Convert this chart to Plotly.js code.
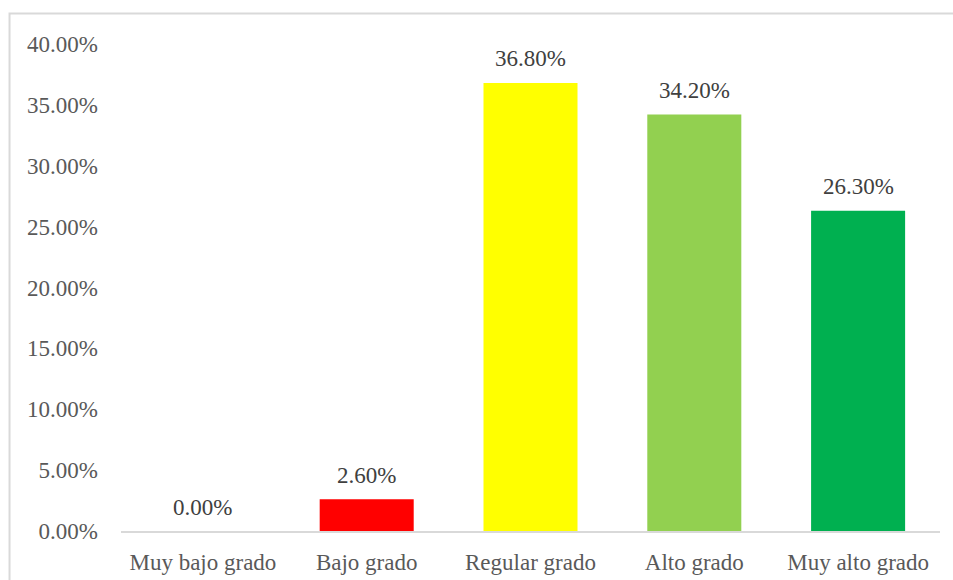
<!DOCTYPE html>
<html>
<head>
<meta charset="utf-8">
<script src="https://cdn.plot.ly/plotly-3.0.1.min.js"></script>
<style>html,body{margin:0;padding:0;background:#fff;}#chart{width:953px;height:580px;}</style>
</head>
<body>
<div id="chart"></div>
<script>
const categories = ["Muy bajo grado", "Bajo grado", "Regular grado", "Alto grado", "Muy alto grado"];
const values = [0.0, 0.026, 0.368, 0.342, 0.263];
const labels = ["0.00%", "2.60%", "36.80%", "34.20%", "26.30%"];
const colors = ["#FF0000", "#FF0000", "#FFFF00", "#92D050", "#00B050"];

const font = {family: "Liberation Serif", size: 23, color: "#595959"};

const trace = {
  type: "bar",
  x: categories,
  y: values,
  marker: {color: colors},
  hoverinfo: "none"
};

const annotations = categories.map((c, i) => ({
  x: c, y: values[i], xref: "x", yref: "y",
  text: labels[i], showarrow: false,
  yanchor: "middle", yshift: 24,
  font: {family: "Liberation Serif", size: 23, color: "#404040"}
}));

const layout = {
  width: 953, height: 580,
  margin: {l: 121, r: 13, t: 44, b: 49},
  paper_bgcolor: "#fff", plot_bgcolor: "#fff",
  font: font,
  bargap: 0.426,
  showlegend: false,
  xaxis: {
    type: "category",
    showline: true, linecolor: "#d9d9d9", linewidth: 1.5,
    showgrid: false, zeroline: false, ticks: "",
    ticklabelstandoff: 10,
    tickfont: font
  },
  yaxis: {
    range: [0, 0.4], dtick: 0.05, tickformat: ".2%",
    showline: false, showgrid: false, zeroline: false, ticks: "",
    ticklabelstandoff: 22,
    tickfont: font
  },
  annotations: annotations,
  shapes: [{
    type: "rect", xref: "paper", yref: "paper",
    x0: -0.1361, x1: 1.2, y0: -0.3, y1: 1.0626,
    line: {color: "#d9d9d9", width: 2}, fillcolor: "rgba(0,0,0,0)", layer: "below"
  }]
};

Plotly.newPlot("chart", [trace], layout, {displayModeBar: false, staticPlot: true});
</script>
</body>
</html>
